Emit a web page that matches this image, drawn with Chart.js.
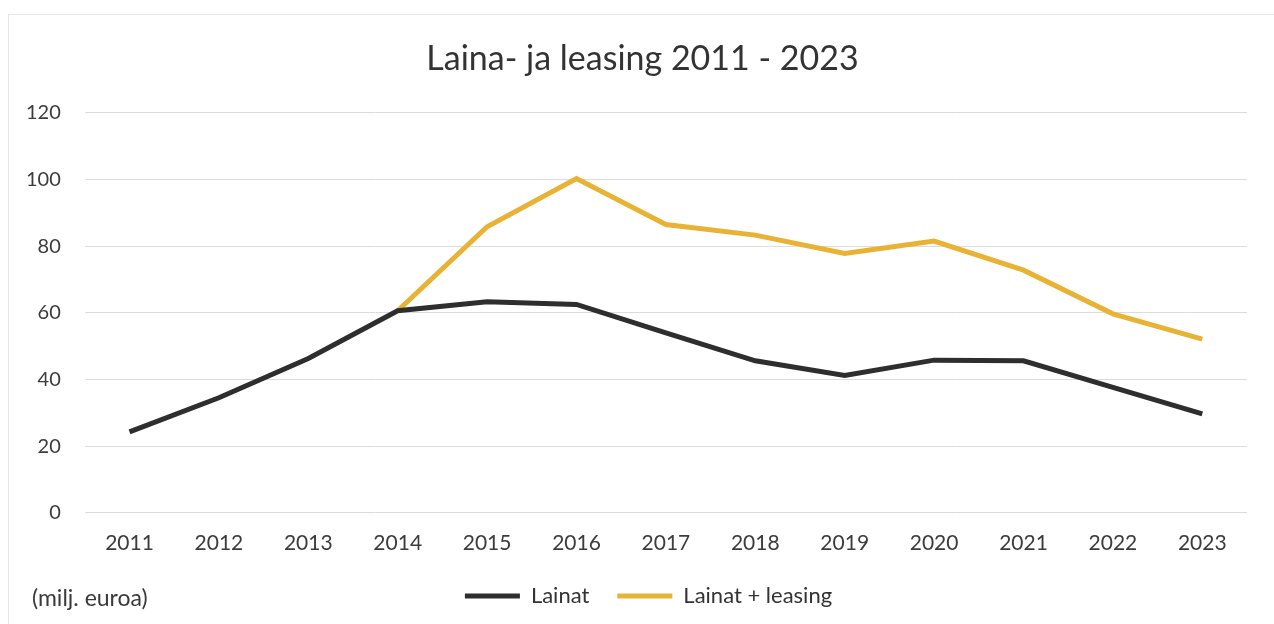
<!DOCTYPE html>
<html>
<head>
<meta charset="utf-8">
<script src="https://cdn.jsdelivr.net/npm/chart.js@4/dist/chart.umd.min.js"></script>
<style>
  body { margin: 0; background: #fff; }
  #wrap { position: relative; width: 1274px; height: 624px; }
  #frame { position: absolute; left: 8px; top: 14px; right: 0; bottom: 0;
           border-left: 1px solid #e6e6e6; border-top: 1px solid #e6e6e6; }
</style>
</head>
<body>
<div id="wrap">
  <div id="frame"></div>
  <canvas id="lineChart" width="1274" height="624"></canvas>
</div>
<script>
const years = ['2011', '2012', '2013', '2014', '2015', '2016', '2017',
               '2018', '2019', '2020', '2021', '2022', '2023'];
const lainat = [24.3, 34.5, 46.3, 60.6, 63.3, 62.5, 54, 45.6, 41.2, 45.8, 45.6, 37.6, 29.7];
const lainatLeasing = [null, null, null, 60.6, 85.8, 100.3, 86.5, 83.3, 77.8, 81.5, 72.8, 59.7, 52.1];
const yTicks = [0, 20, 40, 60, 80, 100, 120];
const unitNote = '(milj. euroa)';

const font = 'Lato, "Open Sans", sans-serif';

// draws the unit note on the same row as the legend
const notePlugin = {
  id: 'unitNote',
  afterLayout(chart) {
    // title and legend sit a bit right of the canvas centre in the original
    chart.titleBlock.left += 18;
    chart.titleBlock.right += 18;
    chart.legend.left += 24;
    chart.legend.right += 24;
  },
  afterDraw(chart) {
    const ctx = chart.ctx, lg = chart.legend;
    ctx.save();
    ctx.font = '23px ' + font;
    ctx.fillStyle = '#3a3a3a';
    ctx.textBaseline = 'middle';
    ctx.fillText(unitNote, 32, lg.bottom - 21 + 3);
    ctx.restore();
  }
};

function drawLineChart() {
  const ctx = document.getElementById('lineChart').getContext('2d');
  new Chart(ctx, {
    type: 'line',
    data: {
      labels: years,
      datasets: [
        {
          label: 'Lainat',
          data: lainat,
          borderColor: '#2e2e2e',
          backgroundColor: '#2e2e2e',
          borderWidth: 5,
          pointRadius: 0,
          tension: 0
        },
        {
          label: 'Lainat + leasing',
          data: lainatLeasing,
          borderColor: '#e8b335',
          backgroundColor: '#e8b335',
          borderWidth: 5,
          pointRadius: 0,
          tension: 0
        }
      ]
    },
    options: {
      responsive: false,
      animation: false,
      layout: { padding: { left: 2, right: 27, top: 10, bottom: 7 } },
      plugins: {
        title: {
          display: true,
          text: 'Laina- ja leasing 2011 - 2023',
          color: '#333',
          font: { family: font, size: 34, weight: 'normal' },
          padding: { top: 29, bottom: 33 }
        },
        legend: {
          position: 'bottom',
          labels: {
            usePointStyle: true,
            pointStyle: 'line',
            pointStyleWidth: 55,
            color: '#333',
            font: { family: font, size: 22 },
            padding: 28
          }
        },
        tooltip: { enabled: false }
      },
      scales: {
        x: {
          offset: true,
          grid: { display: false },
          border: { display: false },
          afterFit(axis) { axis.height -= 9; },
          ticks: { color: '#3c3c3c', font: { family: font, size: 21 }, padding: 10, maxRotation: 0 }
        },
        y: {
          min: 0,
          max: 120,
          afterBuildTicks(axis) { axis.ticks = yTicks.map(v => ({ value: v })); },
          grid: { color: '#dcdcdc', drawTicks: false },
          border: { display: false },
          ticks: { color: '#3c3c3c', font: { family: font, size: 20 }, padding: 24 }
        }
      }
    },
    plugins: [notePlugin]
  });
}

drawLineChart();
</script>
</body>
</html>
